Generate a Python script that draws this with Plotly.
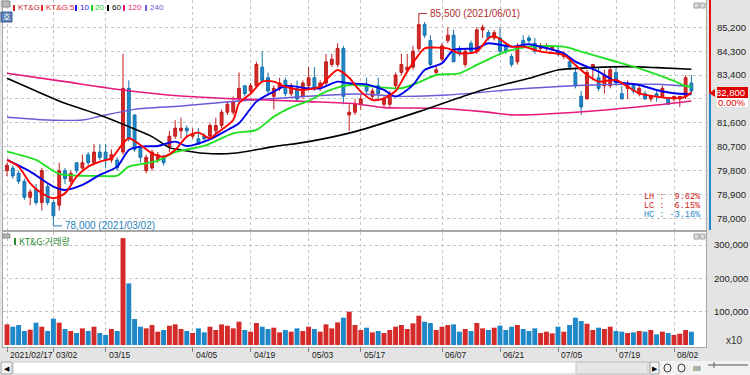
import plotly.graph_objects as go
import pandas as pd

# ---------------- data ----------------
holidays = {"2021-03-01", "2021-05-05", "2021-05-19"}
trade_days = [d.strftime("%Y/%m/%d") for d in pd.bdate_range("2021-02-17", "2021-08-05")
              if d.strftime("%Y-%m-%d") not in holidays]

open_ = [79800, 79900, 79700, 79400, 78800, 79100, 78600, 79200, 78600, 78500,
         79800, 79400, 80100, 79900, 80400, 80100, 80500, 80500, 80200, 80200,
         80500, 82900, 81900, 80700, 79800, 79900, 80200, 80300, 80700, 81100,
         81300, 81400, 81100, 81000, 81100, 81100, 81300, 81500, 82000, 82000,
         82500, 83000, 82800, 83000, 83700, 83300, 82600, 82900, 83200, 82700,
         82900, 82600, 83000, 83300, 82900, 83100, 83800, 83800, 84400, 81900,
         82000, 82300, 83000, 82600, 83000, 82300, 82300, 83000, 83500, 83600,
         83700, 84400, 85300, 84700, 83500, 84000, 84700, 84900, 84400, 83800,
         84600, 84300, 85100, 85000, 84800, 84800, 84500, 84100, 83900, 84700,
         84800, 84600, 84400, 84400, 84400, 84300, 84100, 83900, 83500, 82600,
         82500, 83700, 83300, 83000, 83000, 83500, 82700, 82900, 83000, 82700,
         82700, 82500, 82700, 82600, 82500, 82500, 82500, 82600, 83100]
high = [80100, 80000, 79800, 79500, 79100, 79300, 79900, 79300, 78700, 80100,
        79900, 79800, 80100, 80400, 80500, 80800, 80800, 80800, 80600, 80300,
        84200, 83200, 81900, 80800, 80400, 80600, 80500, 80400, 81300, 81700,
        81800, 81500, 81400, 81400, 81200, 81600, 81800, 82100, 82400, 82600,
        83500, 83000, 83100, 83900, 84300, 83500, 83000, 83300, 83300, 83100,
        83200, 83200, 83700, 83700, 83200, 84200, 84200, 84600, 84500, 82300,
        82500, 82700, 83300, 82900, 83300, 82600, 82800, 83500, 84200, 84200,
        84500, 85500, 85400, 84900, 83800, 84600, 85200, 85100, 84500, 84400,
        84700, 85200, 85300, 85100, 85100, 85200, 84600, 84200, 84600, 84900,
        84900, 84800, 84600, 84600, 84500, 84500, 84300, 84000, 83700, 82800,
        83600, 83800, 83700, 83600, 83700, 83700, 83000, 83200, 83100, 83000,
        82800, 82600, 82800, 83000, 82500, 82600, 82600, 83400, 83400]
low = [79600, 79500, 79300, 78700, 78500, 78500, 78300, 78500, 78000, 78300,
       79300, 79300, 79700, 79800, 80000, 80000, 80200, 79900, 80100, 79800,
       80400, 80900, 80500, 80100, 79700, 79800, 80100, 80000, 80500, 81000,
       81000, 81100, 81000, 80800, 80900, 81000, 81200, 81400, 81900, 81900,
       82400, 82600, 82700, 82900, 83200, 82700, 82100, 82800, 82600, 82600,
       82400, 82500, 82900, 82800, 82800, 83000, 83700, 83700, 82300, 81300,
       81900, 82100, 82700, 82500, 82500, 82200, 82200, 82900, 83400, 83500,
       83600, 84300, 84800, 83700, 83400, 83900, 84600, 83900, 84100, 83700,
       84200, 84200, 84800, 84700, 84700, 84200, 84200, 83700, 83800, 84400,
       84600, 84200, 84300, 84300, 84300, 84100, 84000, 83600, 82900, 81900,
       82500, 83200, 82800, 82700, 82900, 83000, 82500, 82500, 82700, 82600,
       82500, 82400, 82400, 82600, 82300, 82400, 82200, 82500, 82700]
close = [80000, 79600, 79400, 78800, 79000, 78600, 79800, 78600, 78100, 79800,
         79500, 79700, 79800, 80100, 80100, 80500, 80300, 80200, 80400, 79900,
         82900, 81000, 80600, 80300, 80300, 80500, 80400, 80100, 81100, 81400,
         81400, 81300, 81200, 80800, 81000, 81500, 81500, 82000, 82300, 82400,
         82900, 82700, 83000, 83800, 83200, 82800, 82900, 83100, 82700, 83000,
         82500, 83100, 83300, 82900, 83100, 83900, 84000, 84400, 82600, 82000,
         82300, 82500, 82800, 82800, 82700, 82500, 82700, 83400, 83800, 83700,
         84300, 85300, 84900, 83800, 83600, 84500, 84900, 83900, 84200, 84300,
         84300, 85100, 85200, 84800, 85000, 84300, 84300, 83800, 84500, 84500,
         84700, 84300, 84500, 84500, 84500, 84200, 84200, 83700, 83000, 82200,
         83500, 83800, 82900, 83400, 83600, 83100, 82500, 83000, 82800, 82900,
         82500, 82600, 82600, 82900, 82300, 82600, 82600, 83300, 82800]
volume = [62, 55, 60, 42, 46, 67, 55, 42, 79, 67,
          48, 42, 36, 50, 42, 55, 36, 30, 48, 42,
          321, 185, 78, 55, 50, 60, 40, 45, 58, 62,
          48, 42, 36, 50, 38, 55, 45, 62, 58, 50,
          70, 45, 40, 66, 55, 48, 52, 38, 45, 40,
          50, 42, 55, 48, 40, 62, 50, 68, 82, 100,
          60, 45, 52, 38, 42, 36, 45, 55, 60, 48,
          65, 88, 70, 66, 45, 55, 60, 62, 40, 48,
          42, 66, 50, 45, 52, 58, 45, 55, 60, 48,
          42, 50, 36, 40, 35, 55, 40, 60, 82, 72,
          64, 45, 52, 48, 55, 42, 40, 36, 38, 42,
          40, 45, 32, 40, 36, 30, 34, 45, 40]  # thousands (x10 shares)

# moving averages at selected candles
ma5_idx = [0, 2, 4, 6, 8, 10, 12, 14, 16, 18, 20, 21, 23, 25, 27, 29, 31, 33, 35, 36, 39, 40,
           42, 44, 46, 48, 51, 54, 55, 57, 59, 60, 61, 63, 65, 67, 69, 72, 74, 76, 78, 81, 83, 84,
           87, 89, 92, 96, 98, 100, 102, 105, 107, 109, 112, 115, 117, 118]
ma5_val = [80204, 79953, 79325, 78949, 78761, 78949, 79577, 79953, 80141, 80267, 80832, 81020,
           80769, 80455, 80330, 80580, 81083, 81233, 81020, 81183, 81710, 82337,
           82700, 83153, 83153, 82965, 82840, 82965, 83216, 83593, 83300, 83028, 82777, 82463,
           82526, 82802, 83530, 84409, 84434, 84409, 84220, 84283, 84785, 84873,
           84471, 84471, 84283, 84158, 83781, 83405, 83154, 83216, 82965, 82714, 82589, 82526,
           82589, 82752]
ma10_idx = [0, 4, 8, 10, 13, 16, 19, 21, 23, 26, 29, 31, 35, 38, 40, 43, 46, 48, 52, 54,
            57, 59, 62, 65, 67, 70, 72, 75, 77, 81, 83, 87, 90, 92, 96, 98, 102, 105, 109, 112,
            115, 118]
ma10_val = [80204, 79765, 79200, 79075, 79263, 79639, 79953, 80580, 80706, 80731,
            80894, 80731, 80982, 81333, 81585, 82400, 82777, 82990, 82902, 82902,
            83153, 83090, 83053, 82840, 82589, 83028, 83593, 83844, 84346, 84409,
            84597, 84471, 84559, 84471, 84220, 83907, 83530, 83154, 83028, 82840,
            82714, 82677]
ma20_idx = [0, 5, 9, 16, 19, 21, 24, 26, 29, 34, 39, 43, 46, 49, 52, 55, 59, 65, 68, 71,
            74, 78, 81, 86, 90, 96, 99, 104, 109, 115, 117, 118]
ma20_val = [80518, 80204, 79677, 79602, 79614, 79953, 80078, 80179, 80500, 80731,
            81208, 81333, 81836, 82187, 82425, 82777, 83028, 82928, 82903, 83128,
            83405, 83467, 83781, 84283, 84471, 84471, 84283, 83969, 83655, 83179,
            82990, 82965]
ma60_idx = [0, 5, 10, 16, 21, 25, 28, 30, 34, 39, 46, 52, 60, 71, 76, 82, 90, 95, 101, 107,
            112, 118]
ma60_val = [83279, 82802, 82337, 81898, 81459, 81083, 80668, 80580, 80455, 80455,
            80706, 80894, 81271, 82024, 82400, 82840, 83279, 83593, 83680, 83718,
            83680, 83618]
ma120_idx = [0, 10, 20, 30, 40, 52, 60, 65, 74, 82, 87, 89, 101, 112, 118]
ma120_val = [83467, 83153, 82840, 82614, 82500, 82400, 82320, 82175, 82150, 82024,
             81900, 81900, 82050, 82275, 82426]
ma240_idx = [0, 7, 13, 16, 22, 30, 40, 60, 68, 76, 90, 101, 112, 118]
ma240_val = [81810, 81710, 81710, 81850, 82110, 82237, 82425, 82690, 82600, 82652,
             82903, 83028, 83053, 82965]

tick_idx = [0, 8, 17, 32, 42, 52, 61, 75, 85, 95, 105, 115]
tick_labels = ["2021/02/17", "03/02", "03/15", "04/05", "04/19", "05/03", "05/17",
               "06/07", "06/21", "07/05", "07/19", "08/02"]
price_ticks = [78000, 78900, 79800, 80700, 81600, 82500, 83400, 84300, 85200]
price_tick_text = ["78,000", "78,900", "79,800", "80,700", "81,600", "", "83,400", "84,300", "85,200"]
vol_ticks = [100000, 200000, 300000]
vol_tick_text = ["100,000", "200,000", "300,000"]

# ---------------- geometry helpers ----------------
W, H = 750, 375
ML, MR, MT, MB = 3, 44, 0, 28
PW, PH = W - ML - MR, H - MT - MB


def px(x):
    return (x - ML) / PW


def py(y):
    return (PH - (y - MT)) / PH


RED = "#d42a2a"
BLUE = "#1e88c8"
FONT = "Liberation Sans"

n = len(close)
xs = list(range(n))
dates = trade_days[:n]

fig = go.Figure()

vol_colors = [RED if c >= o else BLUE for o, c in zip(open_, close)]
fig.add_trace(go.Bar(x=xs, y=[v * 1000 for v in volume], marker=dict(color=vol_colors, line=dict(width=0)),
                     xaxis="x2", yaxis="y2", showlegend=False, hovertext=dates))

fig.add_trace(go.Candlestick(
    x=xs, open=open_, high=high, low=low, close=close,
    increasing=dict(line=dict(color="#c01c1c", width=1), fillcolor=RED),
    decreasing=dict(line=dict(color="#1772ad", width=1), fillcolor=BLUE),
    whiskerwidth=0, xaxis="x", yaxis="y", showlegend=False, hovertext=dates))

ma_specs = [
    (ma240_idx, ma240_val, "#6a5ad8", 1.4),
    (ma120_idx, ma120_val, "#e6197d", 1.6),
    (ma60_idx, ma60_val, "#000000", 1.6),
    (ma20_idx, ma20_val, "#22e022", 1.9),
    (ma10_idx, ma10_val, "#0000ee", 1.9),
    (ma5_idx, ma5_val, "#ff0000", 1.9),
]
for idx, val, col, wd in ma_specs:
    fig.add_trace(go.Scatter(x=idx, y=val, mode="lines",
                             line=dict(color=col, width=wd, shape="spline", smoothing=0.7),
                             xaxis="x", yaxis="y", showlegend=False, hoverinfo="skip"))

shapes = []
ann = []


def prect(x0, y0, x1, y1, fill, line=None, lw=0):
    shapes.append(dict(type="rect", xref="paper", yref="paper", x0=px(x0), x1=px(x1), y0=py(y1), y1=py(y0),
                       fillcolor=fill, line=dict(width=lw, color=line or fill), layer="above"))


def pline(x0, y0, x1, y1, color, w=1):
    shapes.append(dict(type="line", xref="paper", yref="paper", x0=px(x0), x1=px(x1), y0=py(y0), y1=py(y1),
                       line=dict(color=color, width=w), layer="above"))


def ptext(x, y, text, color, size=10, anchor="left", family=FONT, bg=None):
    d = dict(xref="paper", yref="paper", x=px(x), y=py(y), text=text, showarrow=False, xanchor=anchor,
             yanchor="middle", font=dict(family=family, size=size, color=color), borderpad=0)
    if bg:
        d["bgcolor"] = bg
    ann.append(d)


# scrollbar / bottom strip
prect(0, 361, 750, 375, "#f2f2f2")
prect(13, 362, 650, 374, "#ffffff", "#c8c8c8", 1)
prect(1, 362, 12, 374, "#f4f4f4", "#a0a0a0", 1)
ptext(6.5, 368, "◀", "#000", 7, "center")
prect(576, 362, 648, 374, "#e6e6e6", "#c0c0c0", 1)
prect(650, 362, 659, 374, "#f4f4f4", "#a0a0a0", 1)
ptext(654.5, 368, "▶", "#000", 7, "center")
for cx in (668, 682):
    shapes.append(dict(type="circle", xref="paper", yref="paper", x0=px(cx - 4), x1=px(cx + 3),
                       y0=py(372), y1=py(364), line=dict(color="#333", width=1), layer="above"))
ptext(697, 368, "IIII", "#333", 7, "center")
pline(708, 365, 748, 365, "#555", 1)
pline(714, 362, 714, 368, "#555", 1)

# right price indicator bar
pr_y = 93
pline(710, 0, 710, pr_y, "#e01010", 2)
pline(710, pr_y, 710, 230, BLUE, 2)
shapes.append(dict(type="path", xref="paper", yref="paper",
                   path=f"M {px(709)} {py(pr_y)} L {px(715)} {py(pr_y - 4)} L {px(715)} {py(pr_y + 4)} Z",
                   fillcolor="#e01010", line=dict(width=0), layer="above"))
prect(717, 87, 748, 98, "#e00000")
ptext(746, 92.5, "82,800", "#ffffff", 9.5, "right")
prect(717, 98, 748, 107, "#ffffff")
ptext(746, 102.5, "0.00%", "#e00000", 9.5, "right")

# top legend
prect(2, 1, 10, 7, "#b8b8b8", "#8a8a8a", 1)
prect(1, 12, 12, 22, "#5a7fb5", "#3a5f95", 1)
ptext(6.5, 17, "호", "#ffffff", 8, "center", "Noto Sans CJK KR")
legend_items = [(13, "KT&G", "#c0282d"), (41, "KT&G:5", "#e0282d"), (75, "10", "#1a1ae6"),
                (91, "20", "#22cc22"), (107, "60", "#000000"), (123, "120", "#e6197d"),
                (145, "240", "#6a5ad8")]
for lx, lt, lc in legend_items:
    prect(lx, 5, lx + 2, 11, lc)
    ptext(lx + 3.5, 8, lt, lc, 8)

# pane mini buttons
for yb in (3, 234):
    prect(694, yb, 699, yb + 5, "#dcdcdc", "#a0a0a0", 1)
    prect(700, yb, 705, yb + 5, "#dcdcdc", "#a0a0a0", 1)

# volume header
prect(3, 234, 10, 238, "#b8b8b8", "#8a8a8a", 1)
prect(14, 238, 16, 245, "#2e8b2e")
ptext(17.5, 241.5, "KT&G:거래량", "#2e8b2e", 9, "left", "Noto Sans CJK KR, " + FONT)
ptext(744, 340, "x10", "#333333", 10, "right")

# high / low marks
hi_i, lo_i = high.index(max(high)), low.index(min(low))
shapes.append(dict(type="path", xref="x", yref="y",
                   path=f"M {hi_i} {max(high)} L {hi_i} 85720 L {hi_i + 1.4} 85720",
                   line=dict(color="#b03030", width=1), layer="above"))
ann.append(dict(xref="x", yref="y", x=hi_i + 1.5, y=85720, text=f"{max(high):,} ({dates[hi_i]})",
                showarrow=False, xanchor="left", yanchor="middle",
                font=dict(family=FONT, size=10, color="#b03030")))
shapes.append(dict(type="path", xref="x", yref="y",
                   path=f"M {lo_i} {min(low)} L {lo_i} 77720 L {lo_i + 1.5} 77720",
                   line=dict(color="#2a7fb8", width=1), layer="above"))
ann.append(dict(xref="x", yref="y", x=lo_i + 1.6, y=77720, text=f"{min(low):,} ({dates[lo_i]})",
                showarrow=False, xanchor="left", yanchor="middle",
                font=dict(family=FONT, size=10, color="#2a7fb8")))

# LH / LC / HC
lh = (max(high) / min(low) - 1) * 100
lc = (close[-1] / min(low) - 1) * 100
hc = (close[-1] / max(high) - 1) * 100
ptext(702, 197, f"LH : {lh:5.2f}%", "#d02020", 8.5, "right", "Liberation Mono")
ptext(702, 206, f"LC : {lc:5.2f}%", "#d02020", 8.5, "right", "Liberation Mono")
ptext(702, 215, f"HC : {hc:5.2f}%", "#1e88c8", 8.5, "right", "Liberation Mono")

# date labels
for ti, tl in zip(tick_idx, tick_labels):
    xpx = 7 + ti * 5.8
    ptext(xpx + 2, 355, tl, "#1a1a1a", 8.5)

x0 = -(7 - ML) / 5.8
x1 = x0 + PW / 5.8
grid = dict(showgrid=True, gridcolor="#c4c4c4", griddash="dot", gridwidth=1, automargin=False)
fig.update_layout(
    width=W, height=H, margin=dict(l=ML, r=MR, t=MT, b=MB, autoexpand=False),
    paper_bgcolor="#e4e4e4", plot_bgcolor="#ffffff",
    showlegend=False, bargap=0.15,
    xaxis=dict(domain=[0, 1], anchor="y", range=[x0, x1], tickvals=tick_idx, showticklabels=False,
               rangeslider=dict(visible=False), zeroline=False, showline=True, linecolor="#a8a8a8",
               mirror=True, ticks="", **grid),
    xaxis2=dict(domain=[0, 1], anchor="y2", range=[x0, x1], matches="x", tickvals=tick_idx,
                showticklabels=False, zeroline=False, showline=True, linecolor="#a8a8a8", mirror=True,
                ticks="outside", ticklen=4, tickcolor="#808080", **grid),
    yaxis=dict(domain=[py(230), 1], anchor="x", side="right", range=[77566, 86228],
               tickvals=price_ticks, ticktext=price_tick_text, ticks="", ticklabelstandoff=8,
               tickfont=dict(family=FONT, size=9.5, color="#222"), zeroline=False,
               showline=True, linecolor="#a8a8a8", mirror=True, **grid),
    yaxis2=dict(domain=[0, py(232)], anchor="x2", side="right", range=[-6000, 339339],
                tickvals=vol_ticks, ticktext=vol_tick_text, ticks="", ticklabelstandoff=5,
                tickfont=dict(family=FONT, size=9.5, color="#222"), zeroline=False,
                showline=True, linecolor="#a8a8a8", mirror=True, **grid),
    shapes=shapes, annotations=ann,
)

fig.write_html("out.html", config={"displayModeBar": False},
               post_script="document.body.style.margin='0';document.body.style.overflow='hidden';")
